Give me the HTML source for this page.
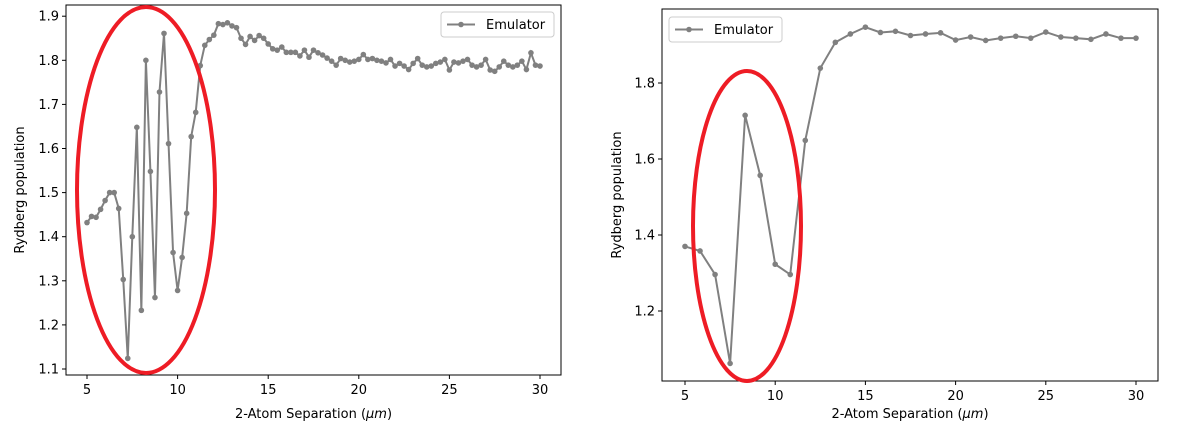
<!DOCTYPE html>
<html><head><meta charset="utf-8"><style>
body{margin:0;background:#fff;width:1182px;height:438px;overflow:hidden}
svg text{font-family:"DejaVu Sans","Liberation Sans",sans-serif;font-size:13px;fill:#000}
</style></head><body>
<svg id="c" width="1182" height="438"></svg>
<script>
const leftValues=[1.432,1.446,1.444,1.462,1.482,1.500,1.500,1.464,1.303,1.124,1.400,1.648,1.233,1.800,1.548,1.262,1.728,1.861,1.611,1.364,1.278,1.353,1.453,1.627,1.682,1.788,1.834,1.847,1.857,1.883,1.881,1.885,1.878,1.874,1.850,1.836,1.854,1.845,1.856,1.850,1.837,1.826,1.823,1.830,1.818,1.818,1.818,1.810,1.823,1.807,1.823,1.817,1.812,1.805,1.798,1.789,1.804,1.800,1.796,1.798,1.802,1.813,1.802,1.804,1.800,1.798,1.794,1.802,1.787,1.793,1.787,1.779,1.793,1.804,1.789,1.785,1.787,1.793,1.796,1.802,1.778,1.796,1.794,1.798,1.802,1.789,1.785,1.789,1.802,1.778,1.775,1.785,1.798,1.789,1.785,1.789,1.798,1.779,1.817,1.789,1.787];
const rightValues=[1.370,1.358,1.296,1.062,1.715,1.557,1.323,1.296,1.649,1.839,1.907,1.929,1.947,1.933,1.936,1.925,1.929,1.932,1.913,1.921,1.912,1.918,1.923,1.918,1.934,1.921,1.918,1.915,1.929,1.918,1.918];
const xTicks=[5,10,15,20,25,30];
const leftYTicks=[1.1,1.2,1.3,1.4,1.5,1.6,1.7,1.8,1.9];
const rightYTicks=[1.2,1.4,1.6,1.8];
const NS='http://www.w3.org/2000/svg',svg=document.getElementById('c');
function mk(t,a,p){const e=document.createElementNS(NS,t);for(const k in a)e.setAttribute(k,a[k]);(p||svg).appendChild(e);return e;}
function drawPanel(o){
  const g=mk('g',{});
  
  
  const X=v=>o.x0px+(v-5)*o.xs, Y=v=>o.y0px-(v-o.y0)*o.ys;
  mk('rect',{x:o.L,y:o.T,width:o.R-o.L,height:o.B-o.T,fill:'#fff',stroke:'#000','stroke-width':1},g);
  xTicks.forEach(t=>{const x=X(t);mk('line',{x1:x,x2:x,y1:o.B,y2:o.B+4,stroke:'#000'},g);
    const tx=mk('text',{x:x,y:o.B+19,'text-anchor':'middle'},g);tx.textContent=t;
    });
  o.yt.forEach(t=>{const y=Y(t);mk('line',{x1:o.L-4,x2:o.L,y1:y,y2:y,stroke:'#000'},g);
    const tx=mk('text',{x:o.L-7,y:y+4.5,'text-anchor':'end'},g);tx.textContent=t.toFixed(1);
    });
  const xl=mk('text',{x:(o.L+o.R)/2,y:418,'text-anchor':'middle'},g);
  xl.innerHTML='2-Atom Separation (<tspan font-style="italic">μm</tspan>)';
  
  const yl=mk('text',{x:0,y:0,'text-anchor':'middle',transform:`translate(${o.yl},${(o.T+o.B)/2}) rotate(-90)`},g);
  yl.textContent='Rydberg population';
  
  const n=o.vals.length,pts=o.vals.map((v,i)=>[X(5+25*i/(n-1)),Y(v)]);
  const pl=mk('polyline',{points:pts.map(p=>p.join(',')).join(' '),fill:'none',stroke:'#808080','stroke-width':2},g);
  
  pts.forEach(p=>{const c=mk('circle',{cx:p[0],cy:p[1],r:2.8,fill:'#808080'},g);
    });
  const el=mk('ellipse',{cx:o.e[0],cy:o.e[1],rx:o.e[2],ry:o.e[3],fill:'none',stroke:'#ee1c25','stroke-width':4},g);
  
  const lg=mk('g',{},g);
  
  mk('rect',{x:o.lg[0],y:o.lg[1],width:113,height:25,rx:3,fill:'#fff',stroke:'#ccc'},lg);
  mk('line',{x1:o.lg[0]+6,x2:o.lg[0]+34,y1:o.lg[1]+12.5,y2:o.lg[1]+12.5,stroke:'#808080','stroke-width':2},lg);
  mk('circle',{cx:o.lg[0]+20,cy:o.lg[1]+12.5,r:2.8,fill:'#808080'},lg);
  const lt=mk('text',{x:o.lg[0]+45,y:o.lg[1]+17},lg);lt.textContent='Emulator';
  
}
drawPanel({name:'left-chart',L:66,R:561,T:5,B:375,x0px:87,xs:18.12,y0:1.1,y0px:369,ys:441,yt:leftYTicks,vals:leftValues,yl:24,e:[146,190,69,183],lg:[441,12]});
drawPanel({name:'right-chart',L:662,R:1158,T:9,B:381,x0px:685,xs:18.04,y0:1.2,y0px:311,ys:380,yt:rightYTicks,vals:rightValues,yl:621,e:[747,226,54,155],lg:[669,17]});
</script>
</body></html>
